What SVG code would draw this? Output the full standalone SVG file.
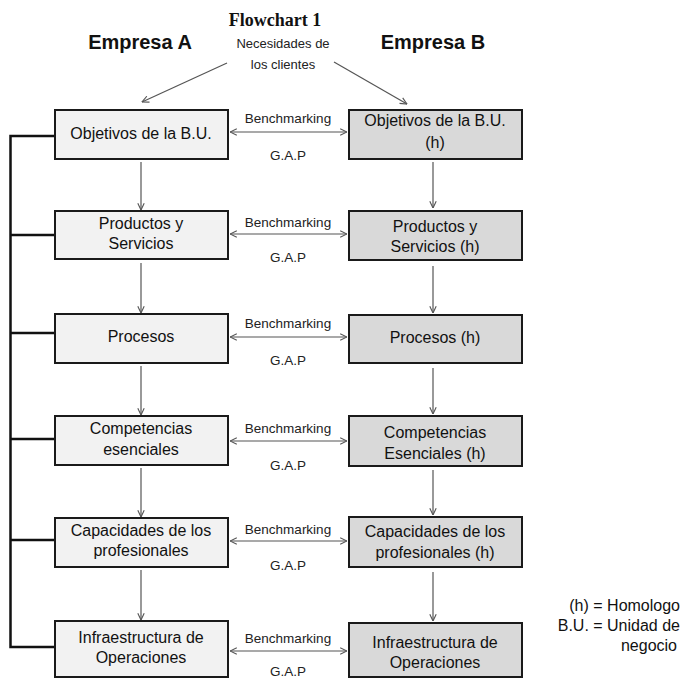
<svg xmlns="http://www.w3.org/2000/svg" width="682" height="679" viewBox="0 0 682 679">
<style>
text{font-family:"Liberation Sans",Arial,sans-serif;fill:#111}
.title{font-family:"Liberation Serif","Times New Roman",serif;font-weight:bold;font-size:18px;text-anchor:middle}
.emp{font-weight:bold;font-size:20px;text-anchor:middle}
.need{font-size:13px;text-anchor:middle;fill:#222}
.bt{font-size:16px;text-anchor:middle}
.lbl{font-size:13.5px;text-anchor:middle;fill:#222}
.leg{font-size:16px;text-anchor:end}
.boxA{fill:#f2f2f2;stroke:#1a1a1a;stroke-width:2}
.boxB{fill:#d9d9d9;stroke:#1a1a1a;stroke-width:2}
.con{stroke:#555;stroke-width:1.2;fill:none}
.bracket{stroke:#111;stroke-width:2.5;fill:none}
</style>
<defs>
<marker id="ah" viewBox="0 0 10 10" refX="9.5" refY="5" markerWidth="8" markerHeight="8" markerUnits="userSpaceOnUse" orient="auto-start-reverse">
<path d="M1,1 L9.5,5 L1,9" fill="none" stroke="#555" stroke-width="1.4"/>
</marker>
</defs>

<text class="title" x="275" y="26">Flowchart 1</text>
<text class="emp" x="140" y="49">Empresa A</text>
<text class="emp" x="433" y="49">Empresa B</text>
<text class="need" x="283" y="48">Necesidades de</text>
<text class="need" x="283" y="69">los clientes</text>

<g id="connectors">
<line class="con" x1="227" y1="63" x2="142" y2="102" marker-end="url(#ah)"/>
<line class="con" x1="334" y1="62" x2="407" y2="104" marker-end="url(#ah)"/>
<line class="con" x1="141" y1="162" x2="141" y2="210" marker-end="url(#ah)"/>
<line class="con" x1="141" y1="263" x2="141" y2="313" marker-end="url(#ah)"/>
<line class="con" x1="141" y1="366" x2="141" y2="415" marker-end="url(#ah)"/>
<line class="con" x1="141" y1="468" x2="141" y2="517" marker-end="url(#ah)"/>
<line class="con" x1="141" y1="570" x2="141" y2="620" marker-end="url(#ah)"/>
<line class="con" x1="433" y1="162" x2="433" y2="208" marker-end="url(#ah)"/>
<line class="con" x1="433" y1="266" x2="433" y2="313" marker-end="url(#ah)"/>
<line class="con" x1="433" y1="368" x2="433" y2="414" marker-end="url(#ah)"/>
<line class="con" x1="433" y1="470" x2="433" y2="515" marker-end="url(#ah)"/>
<line class="con" x1="433" y1="572" x2="433" y2="621" marker-end="url(#ah)"/>
<line class="con" x1="230" y1="132" x2="347" y2="132" marker-start="url(#ah)" marker-end="url(#ah)"/>
<line class="con" x1="230" y1="234" x2="347" y2="234" marker-start="url(#ah)" marker-end="url(#ah)"/>
<line class="con" x1="230" y1="337" x2="347" y2="337" marker-start="url(#ah)" marker-end="url(#ah)"/>
<line class="con" x1="230" y1="441" x2="347" y2="441" marker-start="url(#ah)" marker-end="url(#ah)"/>
<line class="con" x1="230" y1="541" x2="347" y2="541" marker-start="url(#ah)" marker-end="url(#ah)"/>
<line class="con" x1="230" y1="651" x2="347" y2="651" marker-start="url(#ah)" marker-end="url(#ah)"/>
<path class="bracket" d="M55,136 H10.5 V647 H55 M10.5,235 H55 M10.5,333 H55 M10.5,439 H55 M10.5,540 H55"/>
</g>

<g id="labels">
<text class="lbl" x="288" y="123">Benchmarking</text>
<text class="lbl" x="288" y="160">G.A.P</text>
<text class="lbl" x="288" y="227">Benchmarking</text>
<text class="lbl" x="288" y="262">G.A.P</text>
<text class="lbl" x="288" y="328">Benchmarking</text>
<text class="lbl" x="288" y="365">G.A.P</text>
<text class="lbl" x="288" y="433">Benchmarking</text>
<text class="lbl" x="288" y="470">G.A.P</text>
<text class="lbl" x="288" y="534">Benchmarking</text>
<text class="lbl" x="288" y="570">G.A.P</text>
<text class="lbl" x="288" y="643">Benchmarking</text>
<text class="lbl" x="288" y="676">G.A.P</text>
</g>

<g id="a1"><rect class="boxA" x="55" y="110" width="173" height="49"/><text class="bt" x="141" y="139">Objetivos de la B.U.</text></g>
<g id="a2"><rect class="boxA" x="55" y="211" width="173" height="48"/><text class="bt" x="141" y="229">Productos y</text><text class="bt" x="141" y="249">Servicios</text></g>
<g id="a3"><rect class="boxA" x="55" y="314" width="173" height="49"/><text class="bt" x="141" y="342">Procesos</text></g>
<g id="a4"><rect class="boxA" x="55" y="416" width="173" height="49"/><text class="bt" x="141" y="434">Competencias</text><text class="bt" x="141" y="455">esenciales</text></g>
<g id="a5"><rect class="boxA" x="55" y="518" width="173" height="49"/><text class="bt" x="141" y="536">Capacidades de los</text><text class="bt" x="141" y="556">profesionales</text></g>
<g id="a6"><rect class="boxA" x="55" y="621" width="173" height="56"/><text class="bt" x="141" y="643">Infraestructura de</text><text class="bt" x="141" y="663">Operaciones</text></g>

<g id="b1"><rect class="boxB" x="349" y="110" width="173" height="49"/><text class="bt" x="435" y="126">Objetivos de la B.U.</text><text class="bt" x="435" y="148">(h)</text></g>
<g id="b2"><rect class="boxB" x="349" y="211" width="173" height="49"/><text class="bt" x="435" y="232">Productos y</text><text class="bt" x="435" y="252">Servicios (h)</text></g>
<g id="b3"><rect class="boxB" x="349" y="315" width="173" height="48"/><text class="bt" x="435" y="343">Procesos (h)</text></g>
<g id="b4"><rect class="boxB" x="349" y="416" width="173" height="50"/><text class="bt" x="435" y="438">Competencias</text><text class="bt" x="435" y="459">Esenciales (h)</text></g>
<g id="b5"><rect class="boxB" x="349" y="517" width="173" height="50"/><text class="bt" x="435" y="537">Capacidades de los</text><text class="bt" x="435" y="558">profesionales (h)</text></g>
<g id="b6"><rect class="boxB" x="349" y="623" width="173" height="54"/><text class="bt" x="435" y="648">Infraestructura de</text><text class="bt" x="435" y="668">Operaciones</text></g>

<g id="legend">
<text class="leg" x="680" y="611">(h) = Homologo</text>
<text class="leg" x="680" y="631">B.U. = Unidad de</text>
<text class="leg" x="677" y="651">negocio</text>
</g>
</svg>
